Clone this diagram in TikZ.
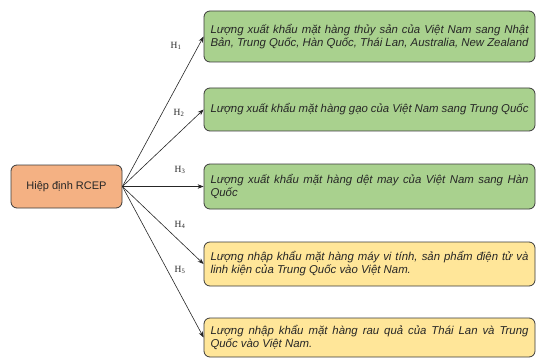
\documentclass[tikz,border=0pt]{standalone}
\usepackage{fontspec}
\setmainfont{Liberation Sans}
\newfontfamily\lblfont{Liberation Serif}
\usetikzlibrary{arrows.meta}
\definecolor{peach}{HTML}{F4B183}
\definecolor{greenbox}{HTML}{A9D18E}
\definecolor{yellowbox}{HTML}{FFE699}
\definecolor{edgegray}{HTML}{3A3A3A}
\tikzset{
  basebox/.style={draw=edgegray, line width=0.8pt, rounded corners=6pt, minimum width=331pt, text width=318pt, inner xsep=6.5pt, align=justify, font=\fontsize{11.4}{13}\selectfont\itshape, text=black!85},
  greenstep/.style={basebox, fill=greenbox},
  yellowstep/.style={basebox, fill=yellowbox},
  conn/.style={-{Stealth[length=6pt,width=4.5pt]}, line width=0.6pt, black!85},
  hlabel/.style={font=\lblfont\fontsize{9.5}{10}\selectfont, text=black!85, inner sep=0pt}
}
\begin{document}
\begin{tikzpicture}[x=1pt,y=-1pt]
\useasboundingbox (0,0) rectangle (537,358);
\node[draw=edgegray, line width=0.8pt, rounded corners=6pt, fill=peach, minimum width=111pt, minimum height=43pt, font=\fontsize{11}{13}\selectfont, text=black!85] (rcep) at (66.5,186.5) {Hiệp định RCEP};
\node[greenstep, minimum height=51pt] (b1) at (369.5,36.5) {Lượng xuất khẩu mặt hàng thủy sản của Việt Nam sang Nhật Bản, Trung Quốc, Hàn Quốc, Thái Lan, Australia, New Zealand};
\node[greenstep, minimum height=43pt] (b2) at (369.5,109.5) {Lượng xuất khẩu mặt hàng gạo của Việt Nam sang Trung Quốc};
\node[greenstep, minimum height=45pt] (b3) at (369.5,186.5) {Lượng xuất khẩu mặt hàng dệt may của Việt Nam sang Hàn Quốc};
\node[yellowstep, minimum height=44pt] (b4) at (369.5,264) {Lượng nhập khẩu mặt hàng máy vi tính, sản phẩm điện tử và linh kiện của Trung Quốc vào Việt Nam.};
\node[yellowstep, minimum height=39pt] (b5) at (369.5,337.5) {Lượng nhập khẩu mặt hàng rau quả của Thái Lan và Trung\linebreak Quốc vào Việt Nam.};
\draw[conn] (rcep.east) -- (b1.west);
\draw[conn] (rcep.east) -- (b2.west);
\draw[conn] (rcep.east) -- (b3.west);
\draw[conn] (rcep.east) -- (b4.west);
\draw[conn] (rcep.east) -- (b5.west);
\node[hlabel] (h1) at (176,46) {H\textsubscript{1}};
\node[hlabel] (h2) at (179,113) {H\textsubscript{2}};
\node[hlabel] (h3) at (180,170) {H\textsubscript{3}};
\node[hlabel] (h4) at (180,225) {H\textsubscript{4}};
\node[hlabel] (h5) at (180,270) {H\textsubscript{5}};
\end{tikzpicture}
\end{document}
